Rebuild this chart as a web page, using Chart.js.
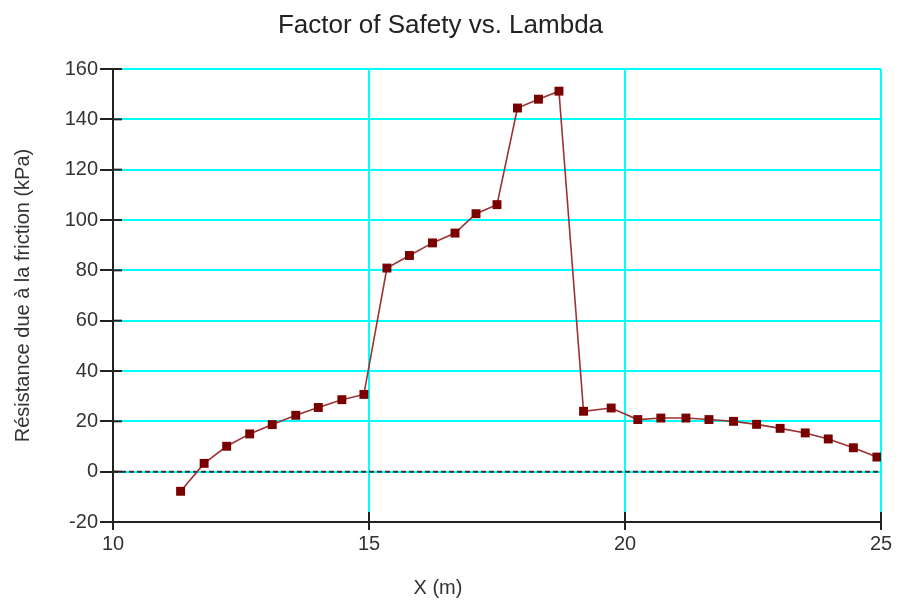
<!DOCTYPE html>
<html>
<head>
<meta charset="utf-8">
<script src="https://cdn.jsdelivr.net/npm/chart.js@4/dist/chart.umd.min.js"></script>
<style>
  html, body { margin: 0; padding: 0; background: #ffffff; }
  #c { display: block; }
</style>
</head>
<body>
<canvas id="c" width="898" height="605"></canvas>
<script>
const chartTitle = "Factor of Safety vs. Lambda";
const xTitle = "X (m)";
const yTitle = "Résistance due à la friction (kPa)";

const xValues = [11.32, 11.78, 12.22, 12.67, 13.11, 13.57, 14.01, 14.47, 14.90,
                 15.35, 15.79, 16.24, 16.68, 17.09, 17.50, 17.90, 18.31, 18.71,
                 19.19, 19.73, 20.25, 20.70, 21.19, 21.64, 22.12, 22.57, 23.03,
                 23.52, 23.97, 24.46, 24.92];
const yValues = [-7.8, 3.3, 10.1, 15.0, 18.7, 22.4, 25.5, 28.6, 30.7,
                 80.9, 85.9, 90.9, 94.8, 102.5, 106.1, 144.5, 148.0, 151.2,
                 24.0, 25.3, 20.7, 21.3, 21.3, 20.7, 20.0, 18.8, 17.2,
                 15.4, 13.0, 9.5, 5.8];

const xTicks = [10, 15, 20, 25];
const yTicks = [-20, 0, 20, 40, 60, 80, 100, 120, 140, 160];

const points = xValues.map((x, i) => ({ x: x, y: yValues[i] }));

const extras = {
  id: 'extras',
  beforeDatasetsDraw(chart) {
    const { ctx, chartArea, scales } = chart;
    const xs = scales.x, ys = scales.y;
    ctx.save();
    // dashed zero line
    const y0 = ys.getPixelForValue(0);
    ctx.strokeStyle = '#333333';
    ctx.lineWidth = 2;
    ctx.setLineDash([5, 3]);
    ctx.beginPath();
    ctx.moveTo(chartArea.left, y0);
    ctx.lineTo(chartArea.right, y0);
    ctx.stroke();
    ctx.setLineDash([]);
    // inner tick parts
    ctx.lineWidth = 2;
    ctx.strokeStyle = '#222222';
    ys.ticks.forEach(t => {
      const py = ys.getPixelForValue(t.value);
      ctx.beginPath();
      ctx.moveTo(chartArea.left, py);
      ctx.lineTo(chartArea.left + 9, py);
      ctx.stroke();
    });
    xs.ticks.forEach(t => {
      const px = xs.getPixelForValue(t.value);
      ctx.beginPath();
      ctx.moveTo(px, chartArea.bottom);
      ctx.lineTo(px, chartArea.bottom - 10);
      ctx.stroke();
    });
    ctx.restore();
  },
  afterDraw(chart) {
    const { ctx } = chart;
    ctx.save();
    ctx.fillStyle = '#333333';
    ctx.font = '20px "Liberation Sans", Arial, sans-serif';
    ctx.textAlign = 'center';
    ctx.textBaseline = 'middle';
    ctx.fillText(xTitle, 438, 588);
    ctx.restore();
  }
};

new Chart(document.getElementById('c'), {
  type: 'scatter',
  data: {
    datasets: [{
      data: points,
      showLine: true,
      borderColor: '#9a3333',
      borderWidth: 1.6,
      backgroundColor: '#800000',
      pointBackgroundColor: '#7a0000',
      pointBorderColor: '#7a0000',
      pointBorderWidth: 0,
      pointStyle: 'rect',
      pointRadius: 6.3,
      pointHoverRadius: 6.3,
      tension: 0
    }]
  },
  options: {
    responsive: false,
    animation: false,
    events: [],
    layout: { padding: { left: 0, right: 17, top: 0, bottom: 0 } },
    plugins: {
      legend: { display: false },
      tooltip: { enabled: false },
      title: {
        display: true,
        text: chartTitle,
        color: '#222222',
        font: { family: '"Liberation Sans", Arial, sans-serif', size: 26, weight: 'normal', lineHeight: 1.2 },
        padding: { top: 10, bottom: 27.8 }
      }
    },
    scales: {
      x: {
        type: 'linear',
        min: 10,
        max: 25,
        afterBuildTicks(scale) { scale.ticks = xTicks.map(v => ({ value: v })); },
        afterFit(scale) { scale.height = 83; },
        ticks: {
          color: '#333333',
          font: { family: '"Liberation Sans", Arial, sans-serif', size: 20 },
          padding: 2,
          maxRotation: 0,
          autoSkip: false
        },
        grid: {
          color: '#00ffff',
          lineWidth: 2,
          tickColor: '#222222',
          tickLength: 8,
          tickWidth: 2
        },
        border: { display: true, color: '#222222', width: 2 }
      },
      y: {
        type: 'linear',
        min: -20,
        max: 160,
        afterBuildTicks(scale) { scale.ticks = yTicks.map(v => ({ value: v })); },
        afterFit(scale) { scale.width = 113; },
        ticks: {
          color: '#333333',
          font: { family: '"Liberation Sans", Arial, sans-serif', size: 20 },
          padding: 2,
          autoSkip: false
        },
        grid: {
          color: '#00ffff',
          lineWidth: 2,
          tickColor: '#222222',
          tickLength: 13,
          tickWidth: 2
        },
        border: { display: true, color: '#222222', width: 2 },
        title: {
          display: true,
          text: yTitle,
          color: '#333333',
          font: { family: '"Liberation Sans", Arial, sans-serif', size: 20, lineHeight: 1.2 },
          padding: { top: 11, bottom: 0 }
        }
      }
    }
  },
  plugins: [extras]
});
</script>
</body>
</html>
